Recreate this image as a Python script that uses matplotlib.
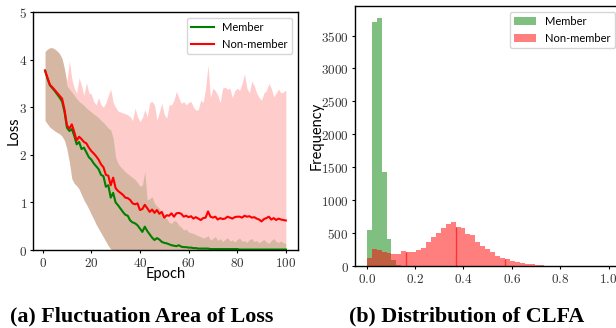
import matplotlib
matplotlib.use("Agg")
import matplotlib.pyplot as plt
import numpy as np
from matplotlib.ticker import FuncFormatter

plt.rcParams["mathtext.fontset"] = "cm"
plt.rcParams["font.family"] = ["Lato", "DejaVu Sans"]

# ---- (a) loss per epoch ----
epochs = np.arange(1, 101)

member_mean = [
    3.77, 3.60, 3.46, 3.40, 3.34, 3.27, 3.20, 3.12, 2.90, 2.57,
    2.50, 2.54, 2.40, 2.22, 2.27, 2.12, 2.15, 2.05, 1.95, 1.90,
    1.82, 1.76, 1.70, 1.58, 1.55, 1.33, 1.36, 1.10, 1.20, 1.00,
    0.94, 0.87, 0.80, 0.74, 0.72, 0.62, 0.58, 0.56, 0.52, 0.45,
    0.38, 0.49, 0.40, 0.33, 0.26, 0.21, 0.25, 0.22, 0.17, 0.15,
    0.14, 0.12, 0.10, 0.09, 0.08, 0.10, 0.07, 0.06, 0.06, 0.05,
    0.05, 0.04, 0.04, 0.03, 0.03, 0.03, 0.03, 0.03, 0.02, 0.02,
    0.02, 0.02, 0.02, 0.02, 0.02, 0.02, 0.02, 0.02, 0.02, 0.02,
    0.01, 0.01, 0.01, 0.01, 0.01, 0.01, 0.01, 0.01, 0.01, 0.01,
    0.01, 0.01, 0.01, 0.01, 0.01, 0.01, 0.01, 0.01, 0.01, 0.01,
]
nonmember_mean = [
    3.77, 3.62, 3.47, 3.42, 3.36, 3.30, 3.24, 3.18, 2.95, 2.62,
    2.55, 2.64, 2.48, 2.30, 2.38, 2.33, 2.27, 2.24, 2.15, 2.08,
    2.03, 1.97, 1.90, 1.80, 1.74, 1.58, 1.56, 1.36, 1.52, 1.30,
    1.24, 1.20, 1.16, 1.10, 1.09, 1.05, 0.98, 0.96, 0.98, 0.84,
    0.86, 0.95, 0.88, 0.80, 0.85, 0.78, 0.84, 0.76, 0.80, 0.68,
    0.73, 0.72, 0.77, 0.70, 0.77, 0.78, 0.76, 0.70, 0.72, 0.69,
    0.71, 0.66, 0.69, 0.66, 0.63, 0.67, 0.68, 0.81, 0.70, 0.68,
    0.70, 0.64, 0.67, 0.65, 0.66, 0.70, 0.68, 0.66, 0.69, 0.70,
    0.70, 0.68, 0.72, 0.70, 0.71, 0.68, 0.69, 0.66, 0.64, 0.60,
    0.65, 0.67, 0.70, 0.64, 0.67, 0.63, 0.66, 0.64, 0.63, 0.62,
]
member_upper = [
    4.17, 4.22, 4.25, 4.25, 4.22, 4.18, 4.12, 4.02, 3.80, 3.45,
    3.38, 3.32, 3.25, 3.18, 3.12, 3.08, 3.04, 2.98, 2.94, 2.90,
    2.86, 2.82, 2.78, 2.72, 2.68, 2.62, 2.56, 2.52, 2.35, 1.95,
    1.82, 1.75, 1.70, 1.64, 1.60, 1.56, 1.52, 1.48, 1.42, 1.34,
    1.36, 1.65, 1.05, 1.08, 1.12, 0.98, 0.92, 0.88, 0.76, 0.70,
    0.66, 0.58, 0.56, 0.62, 0.60, 0.52, 0.48, 0.42, 0.44, 0.38,
    0.36, 0.35, 0.32, 0.30, 0.28, 0.25, 0.27, 0.30, 0.21, 0.24,
    0.28, 0.20, 0.24, 0.18, 0.22, 0.26, 0.19, 0.21, 0.17, 0.22,
    0.25, 0.18, 0.20, 0.16, 0.22, 0.24, 0.18, 0.20, 0.15, 0.19,
    0.22, 0.17, 0.14, 0.20, 0.24, 0.18, 0.16, 0.19, 0.15, 0.14,
]
nonmember_upper = [
    4.17, 4.22, 4.25, 4.25, 4.22, 4.18, 4.12, 4.02, 3.80, 3.55,
    3.97, 3.60, 3.40, 3.30, 3.62, 3.45, 3.25, 3.52, 3.30, 3.28,
    3.12, 3.05, 3.20, 3.05, 3.00, 3.10, 3.25, 3.38, 3.10, 3.00,
    2.92, 2.90, 2.88, 2.86, 2.84, 2.80, 2.72, 2.98, 2.80, 2.70,
    2.78, 2.95, 2.80, 3.10, 3.12, 3.05, 2.73, 2.90, 3.08, 2.85,
    2.77, 3.05, 3.05, 3.15, 3.33, 3.20, 3.08, 3.12, 3.05, 3.10,
    3.12, 3.00, 2.94, 2.95, 3.15, 3.10, 3.40, 3.88, 3.20, 3.40,
    3.35, 3.25, 3.10, 3.40, 3.42, 3.38, 3.40, 3.20, 3.35, 3.40,
    3.35, 3.50, 3.70, 3.40, 3.30, 3.55, 3.45, 3.30, 3.20, 3.15,
    3.30, 3.35, 3.50, 3.40, 3.22, 3.30, 3.38, 3.30, 3.32, 3.36,
]
band_lower = [
    2.72, 2.65, 2.58, 2.54, 2.50, 2.47, 2.44, 2.39, 2.30, 2.12,
    1.85, 1.50, 1.40, 1.35, 1.28, 1.16, 1.05, 0.96, 0.86, 0.75,
    0.65, 0.54, 0.45, 0.36, 0.27, 0.18, 0.09, 0.02] + [0.0] * 72

# ---- (b) CLFA histogram, 49 equal bins on [0, 1] ----
bin_edges = np.linspace(0, 1, 50)
member_counts = [550, 3700, 3760, 1430, 410, 90, 15] + [0] * 42
nonmember_counts = [
    122, 259, 244, 213, 198, 183, 183, 228, 213, 213,
    244, 274, 360, 442, 503, 579, 640, 672, 599, 584,
    492, 477, 371, 310, 259, 213, 152, 127, 107, 76,
    61, 46, 36, 36, 15, 15] + [0] * 13
seam_bins = [8, 18, 28]

fig = plt.figure(figsize=(6.16, 3.28), dpi=100)
ax1 = fig.add_axes([0.0536, 0.2378, 0.430, 0.7256])
ax2 = fig.add_axes([0.5758, 0.189, 0.4317, 0.7927])

tick_kw = dict(labelsize=9.5, labelcolor="#333333", length=2.5, width=0.8, pad=1.8)

ax1.fill_between(epochs, band_lower, member_upper, color="green", alpha=0.2, linewidth=0)
ax1.fill_between(epochs, band_lower, nonmember_upper, color="red", alpha=0.2, linewidth=0)
ax1.plot(epochs, member_mean, color="green", lw=1.5, label="Member")
ax1.plot(epochs, nonmember_mean, color="red", lw=1.5, label="Non-member")
ax1.set_ylim(0, 5)
ax1.set_xticks([0, 20, 40, 60, 80, 100])
ax1.set_yticks([0, 1, 2, 3, 4, 5])
ax1.xaxis.set_major_formatter(FuncFormatter(lambda v, p: f"${v:g}$"))
ax1.yaxis.set_major_formatter(FuncFormatter(lambda v, p: f"${v:g}$"))
ax1.tick_params(**tick_kw)
ax1.set_xlabel("Epoch", fontsize=10.5)
ax1.set_ylabel("Loss", fontsize=10.5)
ax1.xaxis.set_label_coords(0.5, -0.072)
ax1.yaxis.set_label_coords(-0.045, 0.5)
ax1.legend(loc="upper right", fontsize=8)

centers = (bin_edges[:-1] + bin_edges[1:]) / 2
ax2.hist(centers, bins=bin_edges, weights=member_counts, color="green", alpha=0.5, label="Member")
ax2.hist(centers, bins=bin_edges, weights=nonmember_counts, color="red", alpha=0.5, label="Non-member")
nc = np.array(nonmember_counts)
ax2.vlines(bin_edges[seam_bins], 0, np.minimum(nc[np.array(seam_bins) - 1], nc[seam_bins]),
           color="red", alpha=0.6, lw=1)
ax2.set_xlim(-0.05, 1.05)
ax2.set_xticks([0.0, 0.2, 0.4, 0.6, 0.8, 1.0])
ax2.set_yticks(range(0, 4000, 500))
ax2.xaxis.set_major_formatter(FuncFormatter(lambda v, p: f"${v:.1f}$"))
ax2.yaxis.set_major_formatter(FuncFormatter(lambda v, p: f"${v:g}$"))
ax2.tick_params(**tick_kw)
ax2.set_ylabel("Frequency", fontsize=10.5)
ax2.yaxis.set_label_coords(-0.115, 0.5)
ax2.legend(loc="upper right", fontsize=8)

for ax in (ax1, ax2):
    for s in ax.spines.values():
        s.set_linewidth(1.0)

cap_kw = dict(fontsize=15.8, fontweight="bold", family="Liberation Serif", va="baseline", ha="left")
fig.text(10 / 616, 1 - 321.7 / 328, "(a) Fluctuation Area of Loss", **cap_kw)
fig.text(349 / 616, 1 - 321.7 / 328, "(b) Distribution of CLFA", **cap_kw)

fig.savefig("out.png", dpi=100)
